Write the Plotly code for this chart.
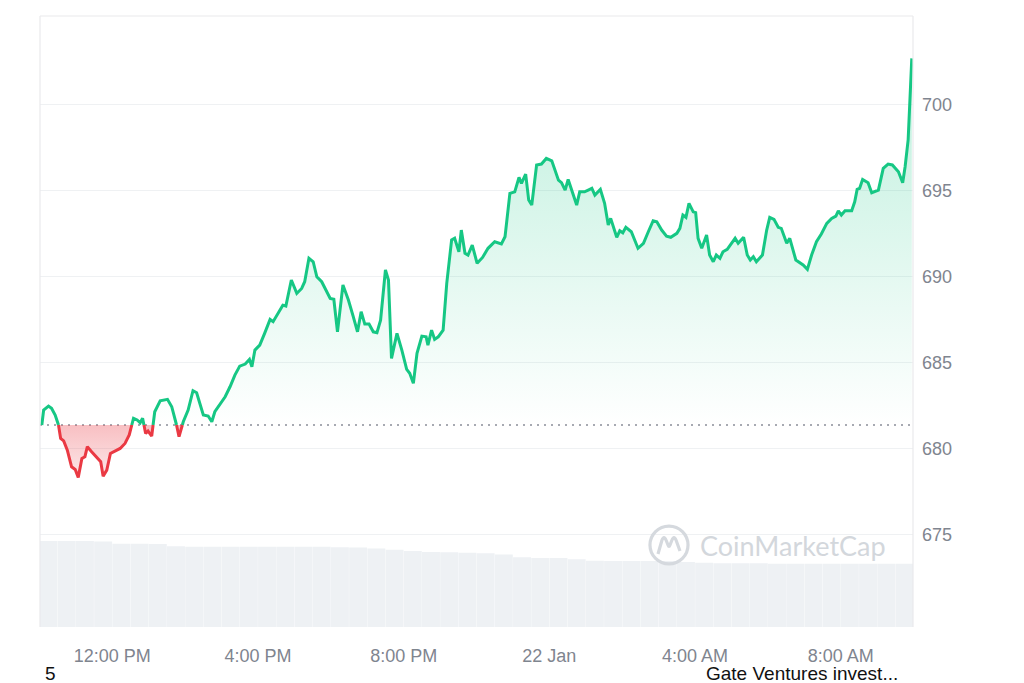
import numpy as np
import pandas as pd
import plotly.graph_objects as go

# ---------------- data ----------------
times = [
    "2025-01-21 10:04", "2025-01-21 10:07", "2025-01-21 10:15", "2025-01-21 10:20", "2025-01-21 10:26",
    "2025-01-21 10:31", "2025-01-21 10:35", "2025-01-21 10:40", "2025-01-21 10:46", "2025-01-21 10:53",
    "2025-01-21 10:59", "2025-01-21 11:04", "2025-01-21 11:10", "2025-01-21 11:15", "2025-01-21 11:19",
    "2025-01-21 11:26", "2025-01-21 11:34", "2025-01-21 11:41", "2025-01-21 11:45", "2025-01-21 11:51",
    "2025-01-21 11:57", "2025-01-21 12:06", "2025-01-21 12:13", "2025-01-21 12:21", "2025-01-21 12:28",
    "2025-01-21 12:35", "2025-01-21 12:41", "2025-01-21 12:46", "2025-01-21 12:50", "2025-01-21 12:55",
    "2025-01-21 12:59", "2025-01-21 13:05", "2025-01-21 13:10", "2025-01-21 13:19", "2025-01-21 13:25",
    "2025-01-21 13:31", "2025-01-21 13:38", "2025-01-21 13:43", "2025-01-21 13:50", "2025-01-21 13:57",
    "2025-01-21 14:05", "2025-01-21 14:13", "2025-01-21 14:19", "2025-01-21 14:24", "2025-01-21 14:30",
    "2025-01-21 14:38", "2025-01-21 14:44", "2025-01-21 14:49", "2025-01-21 14:57", "2025-01-21 15:06",
    "2025-01-21 15:14", "2025-01-21 15:22", "2025-01-21 15:30", "2025-01-21 15:39", "2025-01-21 15:46",
    "2025-01-21 15:50", "2025-01-21 15:55", "2025-01-21 16:03", "2025-01-21 16:11", "2025-01-21 16:20",
    "2025-01-21 16:25", "2025-01-21 16:33", "2025-01-21 16:41", "2025-01-21 16:46", "2025-01-21 16:55",
    "2025-01-21 17:04", "2025-01-21 17:12", "2025-01-21 17:17", "2025-01-21 17:24", "2025-01-21 17:31",
    "2025-01-21 17:37", "2025-01-21 17:45", "2025-01-21 17:53", "2025-01-21 17:59", "2025-01-21 18:05",
    "2025-01-21 18:11", "2025-01-21 18:20", "2025-01-21 18:29", "2025-01-21 18:37", "2025-01-21 18:44",
    "2025-01-21 18:50", "2025-01-21 18:56", "2025-01-21 19:03", "2025-01-21 19:10", "2025-01-21 19:16",
    "2025-01-21 19:22", "2025-01-21 19:30", "2025-01-21 19:35", "2025-01-21 19:40", "2025-01-21 19:49",
    "2025-01-21 19:57", "2025-01-21 20:05", "2025-01-21 20:10", "2025-01-21 20:16", "2025-01-21 20:22",
    "2025-01-21 20:30", "2025-01-21 20:37", "2025-01-21 20:40", "2025-01-21 20:46", "2025-01-21 20:51",
    "2025-01-21 20:57", "2025-01-21 21:05", "2025-01-21 21:11", "2025-01-21 21:19", "2025-01-21 21:24",
    "2025-01-21 21:31", "2025-01-21 21:35", "2025-01-21 21:41", "2025-01-21 21:46", "2025-01-21 21:53",
    "2025-01-21 22:01", "2025-01-21 22:10", "2025-01-21 22:19", "2025-01-21 22:30", "2025-01-21 22:41",
    "2025-01-21 22:47", "2025-01-21 22:55", "2025-01-21 23:03", "2025-01-21 23:10", "2025-01-21 23:14",
    "2025-01-21 23:21", "2025-01-21 23:26", "2025-01-21 23:31", "2025-01-21 23:39", "2025-01-21 23:47",
    "2025-01-21 23:55", "2025-01-22 00:04", "2025-01-22 00:15", "2025-01-22 00:20", "2025-01-22 00:26",
    "2025-01-22 00:31", "2025-01-22 00:38", "2025-01-22 00:45", "2025-01-22 00:50", "2025-01-22 00:58",
    "2025-01-22 01:04", "2025-01-22 01:10", "2025-01-22 01:15", "2025-01-22 01:24", "2025-01-22 01:31",
    "2025-01-22 01:37", "2025-01-22 01:41", "2025-01-22 01:51", "2025-01-22 01:56", "2025-01-22 02:01",
    "2025-01-22 02:06", "2025-01-22 02:15", "2025-01-22 02:26", "2025-01-22 02:35", "2025-01-22 02:43",
    "2025-01-22 02:51", "2025-01-22 02:57", "2025-01-22 03:05", "2025-01-22 03:13", "2025-01-22 03:20",
    "2025-01-22 03:30", "2025-01-22 03:35", "2025-01-22 03:40", "2025-01-22 03:45", "2025-01-22 03:50",
    "2025-01-22 03:57", "2025-01-22 04:01", "2025-01-22 04:05", "2025-01-22 04:11", "2025-01-22 04:19",
    "2025-01-22 04:24", "2025-01-22 04:30", "2025-01-22 04:35", "2025-01-22 04:41", "2025-01-22 04:46",
    "2025-01-22 04:53", "2025-01-22 05:00", "2025-01-22 05:06", "2025-01-22 05:11", "2025-01-22 05:20",
    "2025-01-22 05:26", "2025-01-22 05:31", "2025-01-22 05:36", "2025-01-22 05:41", "2025-01-22 05:51",
    "2025-01-22 05:58", "2025-01-22 06:03", "2025-01-22 06:10", "2025-01-22 06:17", "2025-01-22 06:22",
    "2025-01-22 06:31", "2025-01-22 06:36", "2025-01-22 06:46", "2025-01-22 06:58", "2025-01-22 07:05",
    "2025-01-22 07:12", "2025-01-22 07:20", "2025-01-22 07:28", "2025-01-22 07:37", "2025-01-22 07:45",
    "2025-01-22 07:52", "2025-01-22 07:56", "2025-01-22 08:01", "2025-01-22 08:07", "2025-01-22 08:18",
    "2025-01-22 08:23", "2025-01-22 08:27", "2025-01-22 08:31", "2025-01-22 08:36", "2025-01-22 08:41",
    "2025-01-22 08:45", "2025-01-22 08:51", "2025-01-22 09:02", "2025-01-22 09:10", "2025-01-22 09:18",
    "2025-01-22 09:25", "2025-01-22 09:35", "2025-01-22 09:42", "2025-01-22 09:46", "2025-01-22 09:51",
    "2025-01-22 09:57",
]

prices = [
    681.38, 682.25, 682.48, 682.35, 681.96, 681.48, 680.60, 680.46, 679.92, 678.95,
    678.80, 678.34, 679.44, 679.54, 680.12, 679.83, 679.54, 679.25, 678.41, 678.76,
    679.73, 679.92, 680.02, 680.31, 680.80, 681.77, 681.67, 681.51, 681.77, 680.89,
    681.03, 680.74, 682.15, 682.79, 682.83, 682.87, 682.44, 681.86, 680.70, 681.57,
    682.25, 683.37, 683.25, 682.64, 681.96, 681.90, 681.57, 682.15, 682.54, 683.02,
    683.60, 684.28, 684.80, 684.92, 685.19, 684.76, 685.73, 686.02, 686.70, 687.51,
    687.38, 687.82, 688.34, 688.29, 689.80, 689.02, 689.31, 689.70, 691.06, 690.86,
    689.99, 689.70, 689.12, 688.73, 688.68, 686.79, 689.51, 688.64, 687.67, 686.79,
    687.96, 687.24, 687.24, 686.79, 686.74, 687.47, 690.38, 689.80, 685.25, 686.70,
    685.73, 684.61, 684.38, 683.80, 685.54, 686.54, 686.50, 686.02, 686.89, 686.35,
    686.50, 686.89, 689.61, 692.12, 692.22, 691.44, 692.70, 691.35, 691.25, 691.83,
    690.77, 691.11, 691.64, 692.02, 691.89, 692.31, 694.83, 694.92, 695.76, 695.41,
    695.95, 694.44, 694.15, 696.48, 696.53, 696.86, 696.72, 695.60, 695.45, 695.02,
    695.64, 694.83, 694.15, 694.92, 694.92, 695.02, 695.12, 694.73, 695.06, 694.25,
    692.99, 693.38, 692.28, 692.66, 692.54, 692.86, 692.60, 691.64, 691.93, 692.60,
    693.24, 693.18, 692.70, 692.35, 692.28, 692.51, 692.80, 693.57, 693.44, 694.25,
    693.76, 693.71, 692.22, 691.64, 692.41, 691.25, 690.86, 691.25, 691.06, 691.44,
    691.58, 691.93, 692.22, 691.93, 692.28, 691.25, 690.96, 691.15, 690.86, 691.25,
    692.70, 693.44, 693.32, 692.86, 692.80, 691.93, 692.22, 690.96, 690.67, 690.42,
    691.25, 692.02, 692.47, 693.09, 693.38, 693.51, 693.82, 693.57, 693.82, 693.82,
    694.34, 695.06, 695.12, 695.64, 695.51, 695.45, 694.87, 695.02, 696.28, 696.53,
    696.48, 696.09, 695.45, 696.38, 697.93, 702.67,
]

# 24h volume bars (billions USD), one bar every 30 minutes from 10:00
volume_start = "2025-01-21 10:15"
volumes = [
    1.97, 1.97, 1.97, 1.96, 1.91, 1.91, 1.90, 1.85, 1.84, 1.84,
    1.84, 1.84, 1.84, 1.84, 1.84, 1.84, 1.83, 1.82, 1.80, 1.77,
    1.74, 1.72, 1.71, 1.70, 1.69, 1.66, 1.60, 1.58, 1.58, 1.55,
    1.52, 1.51, 1.51, 1.51, 1.51, 1.49, 1.47, 1.46, 1.46, 1.46,
    1.45, 1.45, 1.45, 1.45, 1.45, 1.45, 1.45, 1.45,
]

tick_times = ["2025-01-21 12:00", "2025-01-21 16:00", "2025-01-21 20:00",
              "2025-01-22 00:00", "2025-01-22 04:00", "2025-01-22 08:00"]
tick_labels = ["12:00 PM", "4:00 PM", "8:00 PM", "22 Jan", "4:00 AM", "8:00 AM"]
price_ticks = [675, 680, 685, 690, 695, 700]

x_range = ["2025-01-21 10:01", "2025-01-22 09:59"]
y_range = [669.65, 705.13]

GREEN = "#16c784"
RED = "#ea3943"
FONT = "Liberation Sans, Arial, sans-serif"

# ---------------- split line into above / below the opening price ----------------
t = pd.to_datetime(times)
tn = t.astype("int64").to_numpy().astype(float)
p = np.array(prices, dtype=float)
base = p[0]

xs, ys = [tn[0]], [p[0]]
for i in range(1, len(p)):
    a, b = p[i - 1], p[i]
    if (a - base) * (b - base) < 0:
        f = (base - a) / (b - a)
        xs.append(tn[i - 1] + f * (tn[i] - tn[i - 1]))
        ys.append(base)
    xs.append(tn[i])
    ys.append(b)
xs = pd.to_datetime(np.array(xs).astype("int64"))
ys = np.array(ys)

up_line = [v if v >= base else None for v in ys]
dn_line = [v if v <= base else None for v in ys]
up_fill = np.maximum(ys, base)
dn_fill = np.minimum(ys, base)
base_arr = np.full(len(ys), base)

vol_t = pd.date_range(volume_start, periods=len(volumes), freq="30min")

fig = go.Figure()

# volume bars on secondary axis
fig.add_trace(go.Bar(
    x=vol_t, y=volumes, yaxis="y2", marker=dict(color="#eef1f4", line=dict(width=0)),
    width=30 * 60 * 1000 * 0.985, hoverinfo="skip", showlegend=False,
))

# green fill
fig.add_trace(go.Scatter(x=xs, y=base_arr, mode="lines", line=dict(width=0),
                         hoverinfo="skip", showlegend=False))
fig.add_trace(go.Scatter(
    x=xs, y=up_fill, mode="lines", line=dict(width=0), fill="tonexty",
    fillgradient=dict(type="vertical",
                      colorscale=[[0, "rgba(22,199,132,0.0)"], [1, "rgba(22,199,132,0.28)"]],
                      start=base, stop=float(p.max())),
    hoverinfo="skip", showlegend=False))
# red fill
fig.add_trace(go.Scatter(x=xs, y=base_arr, mode="lines", line=dict(width=0),
                         hoverinfo="skip", showlegend=False))
fig.add_trace(go.Scatter(
    x=xs, y=dn_fill, mode="lines", line=dict(width=0), fill="tonexty",
    fillgradient=dict(type="vertical",
                      colorscale=[[0, "rgba(234,57,67,0.12)"], [1, "rgba(234,57,67,0.32)"]],
                      start=float(p.min()), stop=base),
    hoverinfo="skip", showlegend=False))

# lines
fig.add_trace(go.Scatter(x=xs, y=up_line, mode="lines", connectgaps=False,
                         line=dict(color=GREEN, width=3), showlegend=False))
fig.add_trace(go.Scatter(x=xs, y=dn_line, mode="lines", connectgaps=False,
                         line=dict(color=RED, width=3), showlegend=False))

# dotted opening-price line
fig.add_shape(type="line", xref="paper", x0=0, x1=1, yref="y", y0=base, y1=base,
              line=dict(color="#8a8f99", width=1.4, dash="2px,5px"), layer="below")

# frame (left, top, right)
for (x0, y0, x1, y1) in [(0, 0, 0, 1), (0, 1, 1, 1), (1, 0, 1, 1)]:
    fig.add_shape(type="line", xref="paper", yref="paper", x0=x0, y0=y0, x1=x1, y1=y1,
                  line=dict(color="#e9eaec", width=1.2))

# watermark
fig.add_shape(type="circle", xref="paper", yref="paper",
              x0=0.7205 - 0.0218, x1=0.7205 + 0.0218, y0=0.1342 - 0.031, y1=0.1342 + 0.031,
              line=dict(color="#d5d9de", width=3.2), layer="above")
fig.add_shape(type="path", xref="paper", yref="paper", xsizemode="pixel", ysizemode="pixel",
              xanchor=0.7205, yanchor=0.1342,
              path="M -11,-9 L -7,5 Q -5,10 -3,5 L -1,0 Q 0,-3 1,0 L 3,5 Q 5,10 7,5 L 11,-6",
              line=dict(color="#d5d9de", width=3.2), layer="above")
fig.add_annotation(text="CoinMarketCap", xref="paper", yref="paper", x=0.8625, y=0.1342,
                   showarrow=False, xanchor="center", yanchor="middle",
                   font=dict(family="Lato, Noto Sans, sans-serif", size=27, color="#d3d7dc"))

# stray caption text at the bottom
fig.add_annotation(text="5", xref="paper", yref="paper", x=3 / 873, y=-46 / 611,
                   showarrow=False, xanchor="left", yanchor="middle",
                   font=dict(family=FONT, size=19, color="#111111"))
fig.add_annotation(text="Gate Ventures invest...", xref="paper", yref="paper",
                   x=(704 - 40) / 873, y=-46 / 611,
                   showarrow=False, xanchor="left", yanchor="middle",
                   font=dict(family=FONT, size=19, color="#111111"))

# the page body has an 8px margin, so the figure is sized to end at the window edge
fig.update_layout(
    width=1016, height=675,
    margin=dict(l=32, r=111, t=8, b=56),
    paper_bgcolor="white", plot_bgcolor="white",
    showlegend=False, bargap=0.02,
    xaxis=dict(type="date", range=x_range, tickvals=tick_times, ticktext=tick_labels,
               showgrid=False, zeroline=False, showline=False, ticks="",
               tickfont=dict(family=FONT, size=18, color="#7f858f"),
               ticklabelstandoff=16),
    yaxis=dict(range=y_range, side="right", tickvals=price_ticks,
               showgrid=True, gridcolor="#eff1f3", gridwidth=1.2, zeroline=False,
               showline=False, ticks="",
               tickfont=dict(family=FONT, size=18, color="#7f858f"),
               ticklabelstandoff=8),
    yaxis2=dict(range=[0, 14], overlaying="y", side="left", visible=False,
                showgrid=False, zeroline=False),
)

fig.write_html("out.html")
